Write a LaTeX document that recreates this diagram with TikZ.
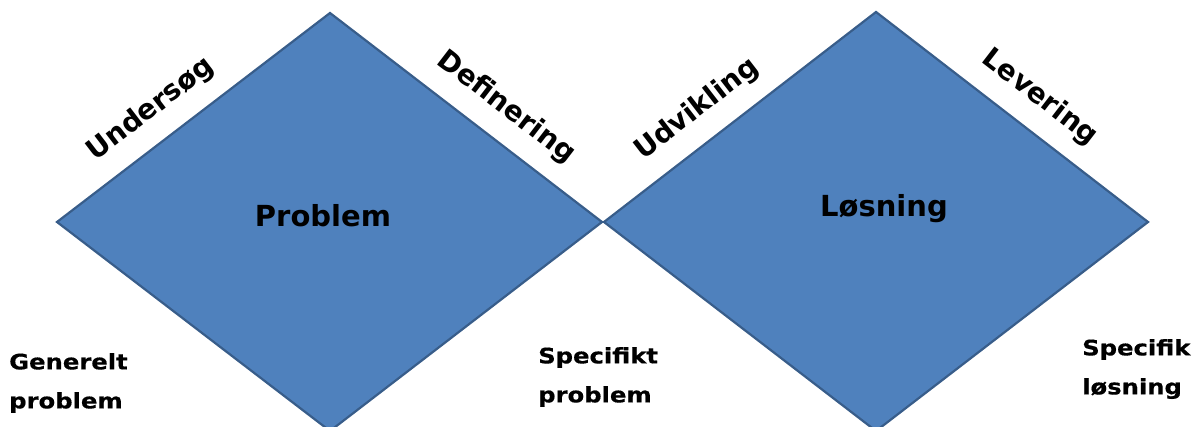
\documentclass[tikz,border=0pt]{standalone}
\usepackage{fontspec}
\setmainfont{DejaVu Sans}
\newfontfamily\widefont[FakeStretch=1.14, FakeBold=0.5]{DejaVu Sans Bold}
\usetikzlibrary{calc}
\definecolor{phasefill}{HTML}{4F81BD}
\definecolor{phaseedge}{HTML}{385D8A}

\begin{document}
\begin{tikzpicture}[x=1pt,y=1pt,
    phase/.style={draw=phaseedge, fill=phasefill, line width=2.2pt, line join=miter},
    sidelabel/.style={sloped, above=18.5pt, inner sep=0pt, text height=21pt, text depth=6pt,
        font=\bfseries\fontsize{28}{30}\selectfont},
    mainlabel/.style={anchor=base, inner sep=0pt, font=\bfseries\fontsize{29}{32}\selectfont},
    endlabel/.style={anchor=north west, inner sep=0pt, align=left,
        font=\widefont\fontsize{21.3}{39}\selectfont}]
    \useasboundingbox (0,0) rectangle (1196,427);
    % Draw the problem diamond
    \coordinate (pL) at (57,205);
    \coordinate (pT) at (330,414);
    \coordinate (pR) at (602,205);
    \coordinate (pB) at (330,-4);
    \draw[phase] (pL) -- (pT) -- (pR) -- (pB) -- cycle;
    % Draw the solution diamond
    \coordinate (sL) at (604,205);
    \coordinate (sT) at (876,415);
    \coordinate (sR) at (1148,205);
    \coordinate (sB) at (876,-4);
    \draw[phase] (sL) -- (sT) -- (sR) -- (sB) -- cycle;
    % Phase names along the upper edges
    \path (pL) -- node[sidelabel, pos=0.415] (unders) {Undersøg} (pT);
    \path (pT) -- node[sidelabel, pos=0.575] (defin) {Definering} (pR);
    \path (sL) -- node[sidelabel, pos=0.415] (udvik) {Udvikling} (sT);
    \path (sT) -- node[sidelabel, pos=0.53] (lever) {Levering} (sR);
    % Titles inside
    \node[mainlabel] (prob) at (323,200) {Problem};
    \node[mainlabel] (losn) at (884,210) {Løsning};
    % Labels at the bottom
    \node[endlabel] (gen) at (9,74) {Generelt\\problem};
    \node[endlabel] (spec) at (538,80) {Specifikt\\problem};
    \node[endlabel] (los) at (1082,88) {Specifik\\løsning};
\end{tikzpicture}
\end{document}
